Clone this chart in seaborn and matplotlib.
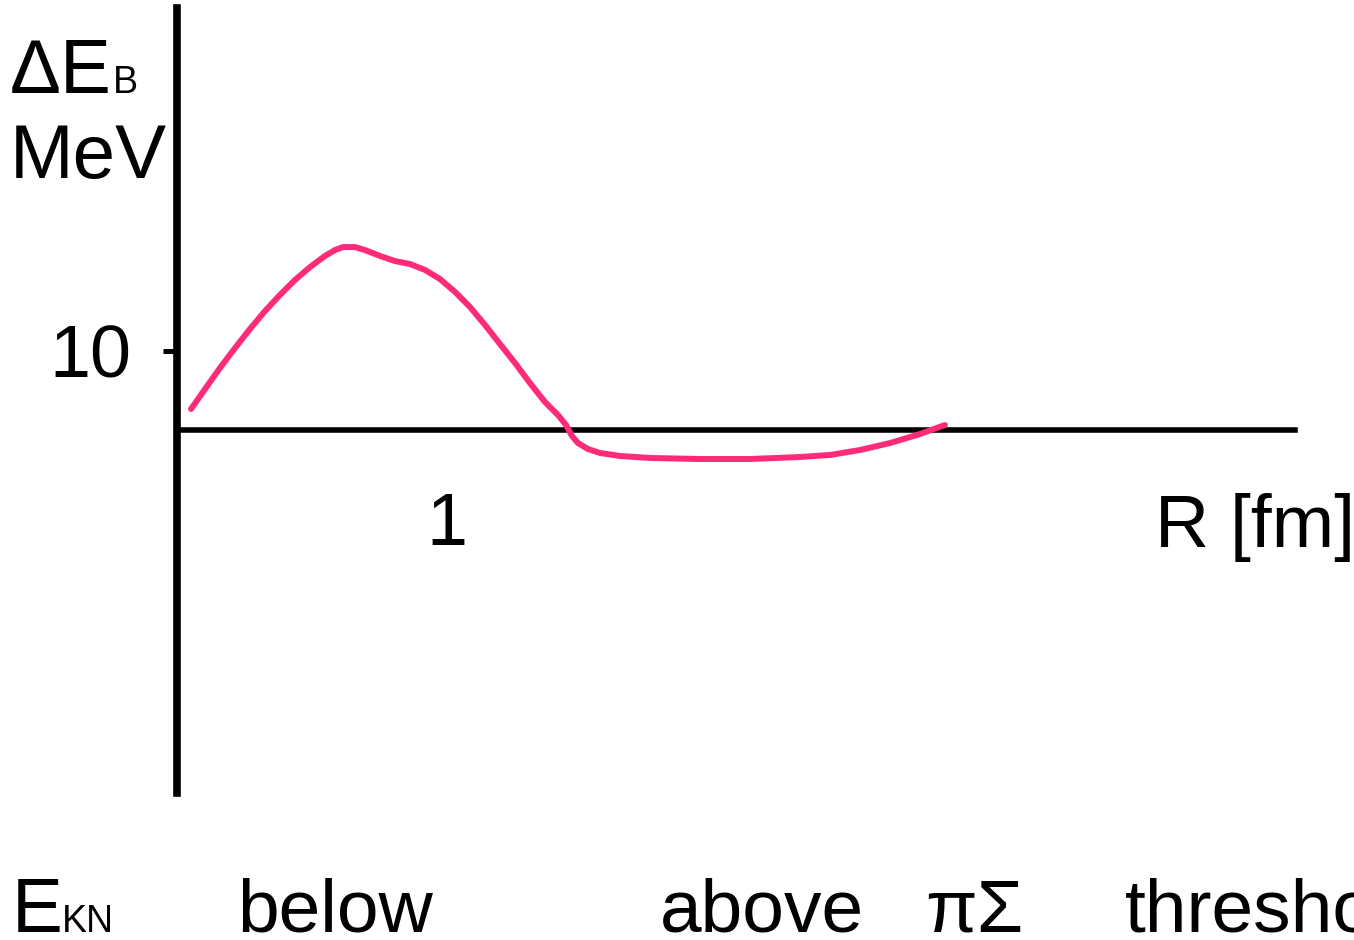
import numpy as np
import pandas as pd
import matplotlib
matplotlib.use("Agg")
import matplotlib.pyplot as plt
import seaborn as sns

# ---- data ----
R_fm = [0.052, 0.104, 0.159, 0.215, 0.270, 0.326, 0.381, 0.437, 0.493, 0.548,
        0.585, 0.615, 0.659, 0.696, 0.752, 0.807, 0.863, 0.919, 0.974, 1.030,
        1.085, 1.141, 1.196, 1.252, 1.307, 1.363, 1.411, 1.441, 1.463, 1.485,
        1.522, 1.567, 1.641, 1.752, 1.937, 2.122, 2.307, 2.419, 2.530, 2.641,
        2.752, 2.844]
dE_MeV = [2.66, 5.19, 7.85, 10.38, 12.78, 15.06, 17.09, 18.99, 20.63, 22.03,
          22.78, 23.16, 23.16, 22.78, 22.03, 21.39, 21.01, 20.25, 19.11, 17.47,
          15.57, 13.29, 10.89, 8.48, 5.95, 3.54, 1.90, 0.63, -0.76, -1.65,
          -2.41, -2.91, -3.29, -3.54, -3.67, -3.67, -3.42, -3.16, -2.53, -1.65,
          -0.51, 0.63]
x_ticks = [1]
x_ticklabels = ["1"]
y_ticks = [10]
y_ticklabels = ["10"]
bottom_words = ["below", "above", "πΣ", "threshold"]

df = pd.DataFrame({"R": R_fm, "dE": dE_MeV})

sns.set_theme(style="white")
plt.rcParams["font.family"] = ["Liberation Sans", "DejaVu Sans"]

W, H = 1354, 940
fig = plt.figure(figsize=(W / 100, H / 100), dpi=100)
ax = fig.add_axes([0, 0, 1, 1])
ax.set_facecolor("white")

sns.lineplot(data=df, x="R", y="dE", ax=ax, color="#FF2A78", linewidth=4.3,
             sort=False, estimator=None)

ax.set_xlim(-177 / 270, 1177 / 270)
ax.set_ylim(-510 / 7.9, 430 / 7.9)

for s in ["top", "right"]:
    ax.spines[s].set_visible(False)
ax.spines["left"].set_position(("data", 0))
ax.spines["bottom"].set_position(("data", 0))
ax.spines["left"].set_bounds(-363 / 7.9, 422 / 7.9)
ax.spines["bottom"].set_bounds(0, 1118 / 270)
ax.spines["left"].set_linewidth(5.5)
ax.spines["bottom"].set_linewidth(4.0)
ax.spines["left"].set_color("black")
ax.spines["bottom"].set_color("black")
ax.spines["left"].set_zorder(1)
ax.spines["bottom"].set_zorder(1)

ax.set_yticks(y_ticks)
ax.set_yticklabels(y_ticklabels)
ax.set_xticks(x_ticks)
ax.set_xticklabels(x_ticklabels)
ax.tick_params(axis="y", direction="out", length=10, width=3.6, color="black",
               pad=23, labelsize=53, left=True, labelcolor="black")
ax.tick_params(axis="x", length=0, pad=44, labelsize=53, bottom=True,
               labelcolor="black")
ax.set_xlabel("")
ax.set_ylabel("")


def ftext(px, py, s, size=55, **kw):
    fig.text(px / W, 1 - py / H, s, fontsize=size, ha="left", va="baseline",
             color="black", **kw)


ftext(10, 93, "ΔE")
ftext(113, 93, "B", size=27)
ftext(10, 178, "MeV")
ftext(1155, 547, "R [fm]", size=54)
ftext(12, 932, "E")
ftext(62, 932, "KN", size=27)
for px, word in zip([237, 660, 925, 1125], bottom_words):
    ftext(px, 932, word, size=54)

fig.savefig("out.png", dpi=100, facecolor="white")
